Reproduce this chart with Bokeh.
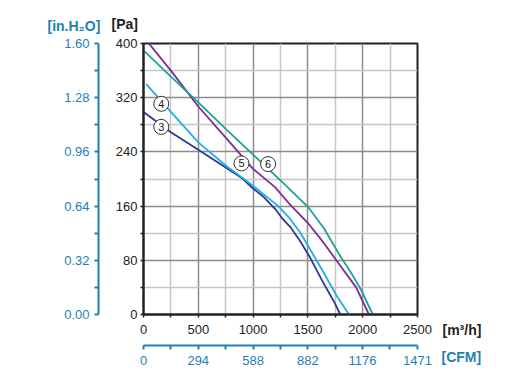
from bokeh.plotting import figure
from bokeh.models import Range1d, LinearAxis, FixedTicker, Label, ColumnDataSource, PrintfTickFormatter
from bokeh.embed import file_html
from bokeh.resources import INLINE
from bokeh.core.properties import value

# ---------------- data ----------------
flow_3 = [0, 250, 500, 750, 900, 1000, 1100, 1200, 1270, 1340, 1430, 1520, 1640, 1735, 1796]
pres_3 = [299, 269, 243, 217, 201, 186, 173, 156, 141, 129, 108, 84, 47, 20, 0]

flow_4 = [25, 250, 500, 750, 900, 1000, 1100, 1230, 1338, 1430, 1521, 1643, 1765, 1875]
pres_4 = [340, 299, 254, 220, 202, 190, 177, 160, 141, 121, 96, 62, 27, 0]

flow_5 = [49, 250, 500, 750, 1000, 1200, 1338, 1500, 1643, 1796, 1940, 2057]
pres_5 = [400, 360, 307, 261, 215, 188, 162, 135, 106, 72, 40, 0]

flow_6 = [0, 250, 500, 750, 1000, 1250, 1500, 1643, 1796, 1900, 1980, 2092]
pres_6 = [390, 351, 313, 274, 236, 198, 159, 128, 86, 60, 38, 0]

curve_names = ["3", "4", "5", "6"]
label_flow = [162, 162, 894, 1137]
label_pres = [277, 311, 223, 222]

pa_ticks = [0, 80, 160, 240, 320, 400]
pa_minor = [40, 120, 200, 280, 360]
m3h_ticks = [0, 500, 1000, 1500, 2000, 2500]
m3h_minor = [250, 750, 1250, 1750, 2250]
inh2o_ticks = [0.00, 0.32, 0.64, 0.96, 1.28, 1.60]
inh2o_minor = [0.16, 0.48, 0.80, 1.12, 1.44]
cfm_ticks = [0, 294, 588, 882, 1176, 1471]
cfm_minor = [147, 441, 735, 1029, 1323]

# ---------------- style ----------------
FONT = "Liberation Sans"
BLUE = "#1f80b6"
DARK = "#222222"
colors = ["#2b3990", "#1eaee8", "#7d2d91", "#17a597"]

p = figure(width=529, height=367, output_backend="svg", toolbar_location=None,
           x_range=Range1d(0, 2500), y_range=Range1d(0, 400),
           min_border_left=0, min_border_right=112, min_border_top=43, min_border_bottom=0)
p.background_fill_color = "white"
p.border_fill_color = "white"
p.outline_line_color = DARK
p.outline_line_width = 2

p.extra_y_ranges = {"inh2o": Range1d(0, 1.6)}
p.extra_x_ranges = {"cfm": Range1d(0, 1471)}

# main axes
xa = p.xaxis[0]
xa.ticker = FixedTicker(ticks=m3h_ticks, minor_ticks=m3h_minor)
ya = p.yaxis[0]
ya.ticker = FixedTicker(ticks=pa_ticks, minor_ticks=pa_minor)
for ax in (xa, ya):
    ax.axis_line_color = DARK
    ax.axis_line_width = 2
    ax.major_tick_line_color = DARK
    ax.minor_tick_line_color = DARK
    ax.major_tick_line_width = 1.5
    ax.minor_tick_line_width = 1.5
    ax.major_tick_in = 1
    ax.major_tick_out = 3
    ax.minor_tick_in = 1
    ax.minor_tick_out = 3
    ax.major_label_text_font = FONT
    ax.major_label_text_font_size = "13px"
    ax.major_label_text_color = DARK
    ax.axis_label = " "
    ax.axis_label_text_font_size = "6px"
ya.major_label_standoff = 3
ya.axis_label_standoff = 5
xa.major_label_standoff = 7
xa.axis_label_standoff = 0

# secondary axes
ay2 = LinearAxis(y_range_name="inh2o", ticker=FixedTicker(ticks=inh2o_ticks, minor_ticks=inh2o_minor),
                 formatter=PrintfTickFormatter(format="%.2f"))
ax2 = LinearAxis(x_range_name="cfm", ticker=FixedTicker(ticks=cfm_ticks, minor_ticks=cfm_minor))
for ax in (ay2, ax2):
    ax.axis_line_color = BLUE
    ax.axis_line_width = 2
    ax.major_tick_line_color = BLUE
    ax.minor_tick_line_color = BLUE
    ax.major_tick_line_width = 2
    ax.minor_tick_line_width = 2
    ax.major_tick_in = 0
    ax.major_tick_out = 4
    ax.minor_tick_in = 0
    ax.minor_tick_out = 4
    ax.major_label_text_font = FONT
    ax.major_label_text_font_size = "13px"
    ax.major_label_text_color = BLUE
ay2.axis_label = " "
ay2.axis_label_text_font_size = "6px"
ay2.major_label_standoff = 5
ay2.axis_label_standoff = 52
ax2.major_label_standoff = 6
p.add_layout(ay2, "left")
p.add_layout(ax2, "below")

# grid
for g in (p.xgrid[0], p.ygrid[0]):
    g.grid_line_color = "#8c8c8c"
    g.grid_line_width = 1.5
    g.minor_grid_line_color = "#c6c6c6"
    g.minor_grid_line_width = 1.5

# curves
series = [(flow_3, pres_3), (flow_4, pres_4), (flow_5, pres_5), (flow_6, pres_6)]
for (fx, py), c in zip(series, colors):
    p.line(fx, py, line_color=c, line_width=1.8)

# curve labels
src = ColumnDataSource(dict(x=label_flow, y=label_pres, t=curve_names))
p.scatter("x", "y", source=src, size=15, fill_color="white", line_color="#333333", line_width=1)
p.text("x", "y", text="t", source=src, text_align="center", text_baseline="middle",
       text_font=value(FONT), text_font_size="11px", text_color="#222222")

# unit labels, placed in the side panels
def unit_label(x, y, txt, color, side):
    p.add_layout(Label(x=x, y=y, x_units="screen", y_units="screen", text=txt,
                       text_font=FONT, text_font_size="14px", text_font_style="bold",
                       text_color=color, text_baseline="middle", text_align="left"), side)

unit_label(-96, 18, "[in.H\u2082O]", BLUE, "above")
unit_label(-32, 4, "[Pa]", DARK, "above")
unit_label(25, -15, "[m\u00b3/h]", DARK, "right")
unit_label(-15, -42, "[CFM]", BLUE, "right")

open("out.html", "w").write(file_html(p, INLINE))
